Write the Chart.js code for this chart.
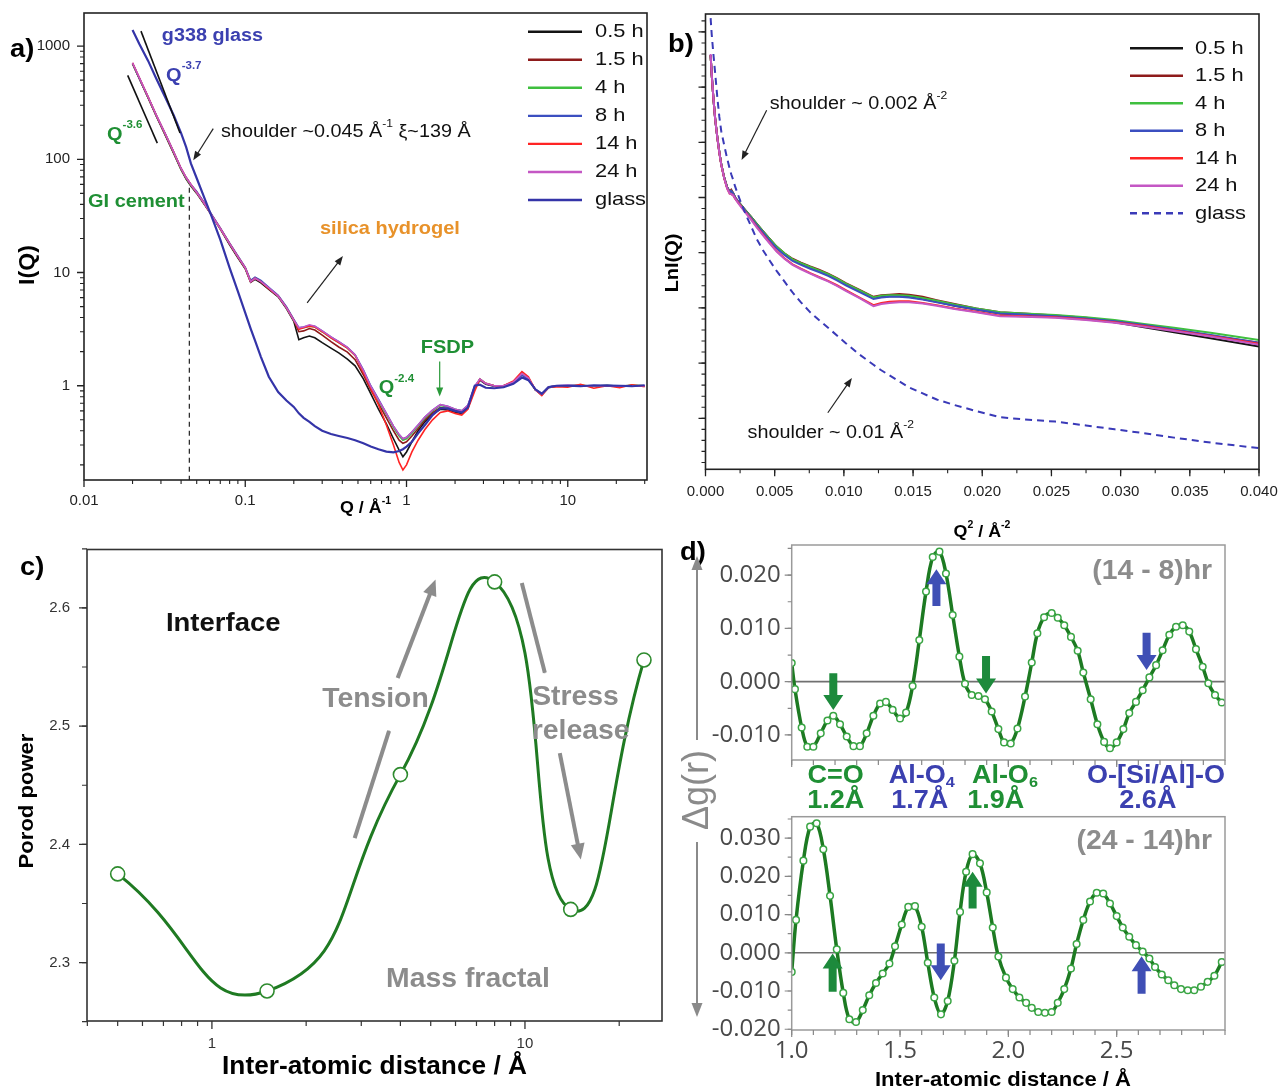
<!DOCTYPE html>
<html><head><meta charset="utf-8">
<script src="https://cdn.jsdelivr.net/npm/chart.js@4.4.1/dist/chart.umd.min.js"></script>
<style>
html,body{margin:0;padding:0;background:#fff;}
#wrap{position:relative;width:1280px;height:1088px;overflow:hidden;background:#fff;}
#wrap canvas{position:absolute;left:0;top:0;}
</style></head><body>
<div id="wrap">
<canvas id="ca" width="1280" height="1088"></canvas>
<canvas id="cb" width="1280" height="1088"></canvas>
<canvas id="cc" width="1280" height="1088"></canvas>
<canvas id="cd1" width="1280" height="1088"></canvas>
<canvas id="cd2" width="1280" height="1088"></canvas>
</div>
<script>
// ---------------- DATA ----------------
const seriesLabels = ['0.5 h','1.5 h','4 h','8 h','14 h','24 h','glass'];
const seriesColors = ['#141414','#8e1b1b','#3fbf3f','#3b4fc0','#ff2424','#c457c4','#3434a8'];

// Panel a : I(Q) vs Q
const qA = [0.020,0.022,0.025,0.028,0.032,0.036,0.040,0.043,0.046,0.050,0.055,0.062,0.070,0.080,0.090,0.100,0.108,0.115,0.125,0.140,0.160,0.180,0.200,0.215,0.230,0.250,0.270,0.300,0.340,0.380,0.430,0.480,0.540,0.600,0.670,0.750,0.830,0.900,0.950,1.000,1.080,1.180,1.300,1.450,1.620,1.800,2.000,2.200,2.400,2.650,2.850,3.100,3.500,4.000,4.600,5.200,5.700,6.300,6.900,7.600,8.500,10.0,12.0,14.5,17.5,21.0,25.0,30.0];
const a05 = [700,520,348,243,162,113,81,67,58,50,41,32,24.2,17.6,13.5,10.8,8.2,8.7,8.1,7.1,6.1,4.8,3.7,2.55,2.65,2.75,2.65,2.4,2.15,1.95,1.72,1.5,1.15,0.85,0.62,0.46,0.34,0.27,0.236,0.26,0.32,0.40,0.48,0.56,0.62,0.61,0.58,0.57,0.63,0.95,1.12,1.03,0.99,0.99,1.07,1.25,1.15,0.92,0.83,0.96,0.99,1.0,1.0,0.99,1.01,0.99,1.0,1.0];
const a15 = [700,520,350,245,164,114,82,68,59,51,42,32,24.4,17.9,13.7,10.9,8.3,8.9,8.3,7.2,6.2,4.9,3.8,3.0,3.05,3.2,3.1,2.8,2.45,2.2,1.98,1.7,1.25,0.92,0.70,0.52,0.40,0.33,0.31,0.32,0.36,0.42,0.50,0.58,0.64,0.63,0.60,0.58,0.65,0.96,1.14,1.04,1.0,1.0,1.07,1.26,1.16,0.92,0.84,0.97,1.0,1.0,1.01,0.99,1.0,0.99,1.01,1.0];
const a4 = [700,520,350,245,165,115,82,68,59,51,42,32,24.5,18,13.8,11,8.4,9.0,8.4,7.3,6.2,4.9,3.8,3.2,3.25,3.35,3.3,3.0,2.65,2.4,2.15,1.85,1.35,0.98,0.74,0.56,0.43,0.36,0.33,0.34,0.38,0.44,0.52,0.60,0.67,0.65,0.62,0.60,0.66,0.97,1.15,1.05,1.0,1.0,1.08,1.27,1.16,0.92,0.84,0.97,1.0,1.0,1.01,0.99,1.0,0.99,1.01,1.0];
const a8 = [702,522,352,246,166,116,83,69,60,52,42.5,32.5,24.8,18.2,14,11.1,8.5,9.1,8.5,7.4,6.3,5.0,3.85,3.25,3.3,3.4,3.35,3.05,2.7,2.45,2.18,1.88,1.38,1.0,0.76,0.57,0.44,0.37,0.34,0.35,0.39,0.45,0.53,0.61,0.68,0.66,0.62,0.60,0.67,0.99,1.13,1.04,0.99,1.0,1.07,1.24,1.14,0.93,0.85,0.98,1.0,1.01,1.0,1.0,1.01,1.0,0.99,1.0];
const a14 = [710,528,354,247,166,116,83,69,60,51,42,32,24.5,18,13.8,11,8.3,8.9,8.3,7.2,6.2,4.9,3.8,3.15,3.25,3.35,3.3,3.0,2.65,2.4,2.15,1.85,1.32,0.95,0.68,0.45,0.30,0.21,0.18,0.20,0.26,0.33,0.41,0.50,0.58,0.60,0.57,0.55,0.62,0.90,1.14,1.05,1.0,1.0,1.10,1.33,1.20,0.92,0.82,0.97,0.98,0.97,1.03,0.95,1.0,0.96,1.02,0.98];
const a24 = [712,530,355,248,167,116,83,69,60,51,42,32,24.5,18,13.8,11,8.3,8.9,8.3,7.3,6.2,4.9,3.8,3.25,3.3,3.45,3.35,3.05,2.7,2.45,2.18,1.87,1.37,0.99,0.75,0.57,0.44,0.37,0.34,0.35,0.39,0.45,0.53,0.61,0.68,0.66,0.62,0.60,0.67,0.99,1.15,1.05,1.0,1.0,1.08,1.28,1.17,0.92,0.84,0.97,1.0,1.01,1.0,1.0,1.0,0.99,1.0,1.0];
const aGlass = [1390,1050,740,520,350,245,170,128,92,68,48,31,19.5,11,6.8,4.4,3.2,2.5,1.8,1.2,0.88,0.74,0.65,0.57,0.52,0.48,0.44,0.40,0.375,0.36,0.345,0.33,0.31,0.29,0.275,0.262,0.258,0.265,0.275,0.29,0.32,0.38,0.45,0.55,0.63,0.63,0.60,0.58,0.64,1.0,1.02,0.96,0.95,0.97,1.04,1.18,1.12,0.93,0.85,0.97,1.0,1.0,0.99,1.01,1.0,1.0,0.99,1.01];
const aXTicks = [0.01,0.1,1,10];     const aXLabels = ['0.01','0.1','1','10'];
const aYTicks = [1,10,100,1000];     const aYLabels = ['1','10','100','1000'];

// Panel b : ln I vs Q^2
const qB = [0.00037,0.00045,0.00057,0.0007,0.00086,0.001,0.00114,0.00135,0.00157,0.00175,0.00186,0.002,0.00214,0.00235,0.00257,0.0029,0.00329,0.0037,0.00414,0.0046,0.00514,0.0057,0.00629,0.0069,0.00757,0.0082,0.00886,0.0095,0.01014,0.0111,0.01214,0.0127,0.01329,0.014,0.01471,0.0157,0.01671,0.018,0.01957,0.02129,0.023,0.02529,0.0275,0.02957,0.0317,0.03386,0.0365,0.04];
const b05 = [6.58,6.22,5.8,5.42,5.08,4.82,4.6,4.36,4.18,4.1,4.12,4.07,4.0,3.93,3.86,3.76,3.65,3.52,3.39,3.26,3.1,2.98,2.87,2.8,2.73,2.67,2.6,2.52,2.43,2.31,2.18,2.2,2.21,2.21,2.2,2.16,2.11,2.04,1.97,1.9,1.88,1.85,1.8,1.74,1.65,1.56,1.45,1.3];
const b15 = [6.58,6.22,5.8,5.42,5.08,4.82,4.6,4.36,4.18,4.11,4.14,4.08,4.0,3.93,3.86,3.76,3.65,3.52,3.39,3.26,3.11,2.99,2.89,2.82,2.75,2.69,2.62,2.54,2.45,2.33,2.2,2.23,2.24,2.25,2.24,2.2,2.14,2.07,1.99,1.92,1.9,1.86,1.82,1.76,1.68,1.6,1.5,1.37];
const b4 = [6.58,6.22,5.8,5.42,5.08,4.82,4.6,4.36,4.18,4.1,4.12,4.07,4.0,3.93,3.86,3.76,3.65,3.52,3.39,3.26,3.11,2.99,2.88,2.81,2.74,2.68,2.61,2.53,2.44,2.32,2.19,2.22,2.23,2.23,2.22,2.18,2.13,2.06,1.99,1.92,1.9,1.87,1.83,1.78,1.71,1.64,1.55,1.42];
const b8 = [6.58,6.22,5.8,5.42,5.08,4.82,4.6,4.36,4.18,4.1,4.12,4.07,4.0,3.93,3.85,3.75,3.63,3.5,3.37,3.23,3.08,2.96,2.85,2.78,2.71,2.65,2.58,2.5,2.41,2.29,2.16,2.19,2.2,2.2,2.19,2.15,2.1,2.04,1.97,1.9,1.88,1.85,1.81,1.76,1.69,1.61,1.51,1.37];
const b14 = [6.58,6.22,5.8,5.42,5.07,4.81,4.59,4.35,4.16,4.07,4.06,4.04,3.98,3.91,3.84,3.73,3.61,3.47,3.33,3.19,3.03,2.9,2.79,2.71,2.63,2.56,2.49,2.41,2.32,2.19,2.05,2.09,2.11,2.12,2.12,2.09,2.05,1.99,1.93,1.86,1.85,1.83,1.79,1.74,1.67,1.59,1.49,1.35];
const b24 = [6.6,6.24,5.81,5.42,5.07,4.81,4.59,4.35,4.16,4.07,4.06,4.04,3.98,3.9,3.83,3.72,3.6,3.46,3.32,3.18,3.02,2.89,2.78,2.7,2.62,2.55,2.48,2.4,2.31,2.18,2.03,2.07,2.09,2.1,2.1,2.08,2.04,1.98,1.92,1.85,1.84,1.82,1.78,1.73,1.66,1.58,1.48,1.33];
const bGlass = [7.25,6.95,6.6,6.25,5.8,5.46,5.2,4.95,4.7,4.52,4.42,4.32,4.2,4.05,3.9,3.7,3.48,3.25,3.05,2.87,2.67,2.48,2.28,2.1,1.92,1.78,1.64,1.5,1.36,1.16,0.97,0.87,0.78,0.67,0.56,0.45,0.34,0.24,0.13,0.02,-0.02,-0.06,-0.13,-0.2,-0.27,-0.35,-0.44,-0.54];
const bXTicks = [0,0.005,0.01,0.015,0.02,0.025,0.03,0.035,0.04];
const bXLabels = ['0.000','0.005','0.010','0.015','0.020','0.025','0.030','0.035','0.040'];

// Panel c : Porod power vs distance
const cX = [0.5,1.5,4,8,14,24];
const cY = [2.375,2.276,2.459,2.622,2.345,2.556];
const cXTicks = [1,10];  const cXLabels = ['1','10'];
const cYTicks = [2.3,2.4,2.5,2.6]; const cYLabels = ['2.3','2.4','2.5','2.6'];

// Panel d : delta g(r)
const dTopX = [1.000,1.015,1.046,1.072,1.100,1.134,1.165,1.192,1.223,1.254,1.285,1.315,1.346,1.377,1.408,1.435,1.466,1.500,1.528,1.558,1.589,1.620,1.651,1.682,1.712,1.743,1.774,1.800,1.831,1.862,1.892,1.923,1.954,1.980,2.011,2.042,2.077,2.108,2.134,2.165,2.200,2.228,2.258,2.289,2.320,2.346,2.380,2.411,2.442,2.469,2.500,2.531,2.558,2.589,2.620,2.651,2.682,2.712,2.743,2.774,2.805,2.835,2.866,2.897,2.923,2.954,2.985];
const dTopY = [0.0035,-0.0014,-0.0086,-0.0122,-0.0122,-0.0097,-0.0073,-0.0064,-0.0080,-0.0103,-0.0121,-0.0121,-0.0097,-0.0064,-0.0041,-0.0038,-0.0053,-0.0069,-0.0058,-0.0008,0.0078,0.0169,0.0234,0.0244,0.0203,0.0125,0.0047,-0.0004,-0.0025,-0.0027,-0.0033,-0.0056,-0.0089,-0.0114,-0.0116,-0.0088,-0.0028,0.0036,0.0091,0.0121,0.0129,0.0120,0.0106,0.0084,0.0058,0.0017,-0.0033,-0.0080,-0.0113,-0.0125,-0.0114,-0.0089,-0.0059,-0.0038,-0.0016,0.0008,0.0031,0.0059,0.0088,0.0103,0.0106,0.0094,0.0061,0.0028,-0.0003,-0.0025,-0.0039];
const dBotX = [1.000,1.020,1.054,1.085,1.115,1.146,1.177,1.208,1.238,1.266,1.297,1.328,1.358,1.389,1.420,1.451,1.477,1.508,1.538,1.569,1.600,1.628,1.658,1.689,1.720,1.751,1.777,1.805,1.835,1.869,1.900,1.928,1.954,1.989,2.020,2.051,2.082,2.108,2.138,2.169,2.200,2.228,2.258,2.289,2.315,2.346,2.377,2.408,2.438,2.469,2.500,2.528,2.558,2.589,2.620,2.651,2.677,2.708,2.738,2.766,2.797,2.828,2.858,2.889,2.920,2.951,2.985];
const dBotY = [-0.0050,0.0086,0.0241,0.0330,0.0339,0.0271,0.0149,0.0009,-0.0105,-0.0174,-0.0181,-0.0150,-0.0111,-0.0079,-0.0054,-0.0028,0.0017,0.0074,0.0120,0.0122,0.0068,-0.0026,-0.0117,-0.0161,-0.0126,-0.0021,0.0107,0.0212,0.0258,0.0234,0.0158,0.0066,-0.0010,-0.0065,-0.0095,-0.0117,-0.0131,-0.0144,-0.0155,-0.0157,-0.0155,-0.0131,-0.0095,-0.0041,0.0023,0.0086,0.0134,0.0157,0.0155,0.0129,0.0096,0.0066,0.0042,0.0020,0.0003,-0.0015,-0.0037,-0.0057,-0.0072,-0.0085,-0.0095,-0.0098,-0.0098,-0.0089,-0.0076,-0.0060,-0.0024];
const dTopYTicks = [0.02,0.01,0,-0.01]; const dTopYLabels = ['0.020','0.010','0.000','-0.010'];
const dBotYTicks = [0.03,0.02,0.01,0,-0.01,-0.02]; const dBotYLabels = ['0.030','0.020','0.010','0.000','-0.010','-0.020'];
const dXTicks = [1.0,1.5,2.0,2.5]; const dXLabels = ['1.0','1.5','2.0','2.5'];

// ---------------- HELPERS ----------------
const FF = '"Liberation Sans", Arial, sans-serif';
const GREEN_T = '#1f8f34', BLUE_T = '#3b40b0';
function txt(ctx,s,x,y,font,color,align,sx,rot){
  ctx.save(); ctx.font=font; ctx.fillStyle=color||'#000'; ctx.textBaseline='middle'; ctx.textAlign=align||'left';
  ctx.translate(x,y); if(rot) ctx.rotate(rot); ctx.scale(sx||1,1); ctx.fillText(s,0,0);
  const w=ctx.measureText(s).width*(sx||1); ctx.restore(); return w;
}
function rich(ctx,parts,x,y,align,sx){
  sx=sx||1; ctx.save(); let tot=0;
  const ws=parts.map(p=>{ctx.font=p[1]; const w=ctx.measureText(p[0]).width*sx; tot+=w; return w;}); ctx.restore();
  let cx = align==='center'? x-tot/2 : (align==='right'? x-tot : x);
  parts.forEach((p,i)=>{ txt(ctx,p[0],cx,y+(p[3]||0),p[1],p[2],'left',sx); cx+=ws[i]; });
}
function seg(ctx,x1,y1,x2,y2,color,w,dash){
  ctx.save(); ctx.strokeStyle=color; ctx.lineWidth=w; if(dash) ctx.setLineDash(dash);
  ctx.beginPath(); ctx.moveTo(x1,y1); ctx.lineTo(x2,y2); ctx.stroke(); ctx.restore();
}
function arrow(ctx,x1,y1,x2,y2,color,w,hl,hw){
  const a=Math.atan2(y2-y1,x2-x1), c=Math.cos(a), s=Math.sin(a);
  ctx.save(); ctx.strokeStyle=color; ctx.fillStyle=color; ctx.lineWidth=w;
  ctx.beginPath(); ctx.moveTo(x1,y1); ctx.lineTo(x2-c*hl*0.7,y2-s*hl*0.7); ctx.stroke();
  ctx.beginPath(); ctx.moveTo(x2,y2); ctx.lineTo(x2-c*hl+s*hw,y2-s*hl-c*hw); ctx.lineTo(x2-c*hl-s*hw,y2-s*hl+c*hw); ctx.closePath(); ctx.fill();
  ctx.restore();
}
function blockArrow(ctx,x,yT,yH,color){
  const d = yH>yT?1:-1, sw=4, hw=10, hl=15;
  ctx.save(); ctx.fillStyle=color; ctx.beginPath();
  ctx.moveTo(x-sw,yT); ctx.lineTo(x+sw,yT); ctx.lineTo(x+sw,yH-d*hl); ctx.lineTo(x+hw,yH-d*hl);
  ctx.lineTo(x,yH); ctx.lineTo(x-hw,yH-d*hl); ctx.lineTo(x-sw,yH-d*hl); ctx.closePath(); ctx.fill(); ctx.restore();
}
function frame(ctx,ca,color,w){ ctx.save(); ctx.strokeStyle=color; ctx.lineWidth=w; ctx.strokeRect(ca.left,ca.top,ca.right-ca.left,ca.bottom-ca.top); ctx.restore(); }
function ticksX(ctx,sc,ca,vals,len,color,w){
  ctx.save(); ctx.strokeStyle=color; ctx.lineWidth=w; ctx.beginPath();
  vals.forEach(v=>{const p=sc.getPixelForValue(v); if(p<ca.left-1||p>ca.right+1) return; ctx.moveTo(p,ca.bottom); ctx.lineTo(p,ca.bottom+len);});
  ctx.stroke(); ctx.restore();
}
function ticksY(ctx,sc,ca,vals,len,color,w){
  ctx.save(); ctx.strokeStyle=color; ctx.lineWidth=w; ctx.beginPath();
  vals.forEach(v=>{const p=sc.getPixelForValue(v); if(p<ca.top-1||p>ca.bottom+1) return; ctx.moveTo(ca.left,p); ctx.lineTo(ca.left-len,p);});
  ctx.stroke(); ctx.restore();
}
function logVals(min,max,mults){ const out=[]; for(let e=Math.floor(Math.log10(min))-1;e<=Math.ceil(Math.log10(max));e++){ mults.forEach(m=>{const v=m*Math.pow(10,e); if(v>=min*0.999&&v<=max*1.001) out.push(v);}); } return out; }
function linVals(min,max,step){ const out=[]; const n0=Math.ceil(min/step-1e-9), n1=Math.floor(max/step+1e-9); for(let n=n0;n<=n1;n++) out.push(n*step); return out; }
const MINOR=[2,3,4,5,6,7,8,9];

function commonOpts(pad, scales){
  return { responsive:false, animation:false, events:[], layout:{padding:pad},
    plugins:{legend:{display:false}, tooltip:{enabled:false}, title:{display:false}}, scales };
}
function axisBase(extra, w, h){
  return Object.assign({ bounds:'data', grid:{display:false, drawTicks:false, tickLength:0}, border:{display:false},
    afterFit:s=>{ if(w!=null) s.width=w; if(h!=null) s.height=h; s.paddingLeft=0; s.paddingRight=0; s.paddingTop=0; s.paddingBottom=0; } }, extra);
}
function legendDraw(ctx, chart, x1, x2, xt, y0, dy, font, sx){
  chart.data.datasets.forEach((ds,i)=>{
    const y=y0+dy*i;
    seg(ctx,x1,y,x2,y,ds.borderColor,2.4,ds.borderDash);
    txt(ctx,ds.label,xt,y,font,'#111','left',sx);
  });
}

// ---------------- PANEL A ----------------
const aSeries=[a05,a15,a4,a8,a14,a24,aGlass];
const drawOrder=[6,5,4,3,2,1,0];
const plugA = { id:'plugA', afterDraw(chart){
  const ctx=chart.ctx, ca=chart.chartArea, X=chart.scales.x, Y=chart.scales.y;
  const px=v=>X.getPixelForValue(v), py=v=>Y.getPixelForValue(v);
  frame(ctx,ca,'#222',1.6);
  ticksX(ctx,X,ca,aXTicks,7,'#222',1.3); ticksX(ctx,X,ca,logVals(0.01,31,MINOR),4,'#222',1.1);
  ticksY(ctx,Y,ca,aYTicks,7,'#222',1.3); ticksY(ctx,Y,ca,logVals(0.147,1960,MINOR),4,'#222',1.1);
  seg(ctx,px(0.02256),py(1356),px(0.0394),py(170.6),'#111',1.6);
  seg(ctx,px(0.01866),py(551),px(0.02848),py(139),'#111',1.6);
  seg(ctx,px(0.045),py(56),px(0.045),ca.bottom,'#222',1.2,[5,4]);
  arrow(ctx,px(0.0633),py(186.6),px(0.0476),py(98),'#222',1.2,9,3.5);
  arrow(ctx,px(0.242),py(5.39),px(0.4034),py(13.96),'#222',1.2,9,3.5);
  arrow(ctx,px(1.606),py(1.64),px(1.606),py(0.804),'#2a9a3a',1.2,9,3.5);
  const B='bold 18.5px '+FF, Bs='bold 11px '+FF, R='18px '+FF, Rs='11px '+FF;
  txt(ctx,'g338 glass',px(0.0304),py(1218),'bold 18px '+FF,BLUE_T,'left',1.1);
  rich(ctx,[['Q','bold 19px '+FF,BLUE_T,0],['-3.7',Bs,BLUE_T,-9]],px(0.0323),py(551),'left',1.05);
  rich(ctx,[['Q','bold 19px '+FF,GREEN_T,0],['-3.6',Bs,GREEN_T,-9]],px(0.0139),py(166),'left',1.05);
  rich(ctx,[['shoulder ~0.045 Å',R,'#111',0],['-1',Rs,'#111',-8],[' ξ~139 Å',R,'#111',0]],px(0.0707),py(173),'left',1.1);
  txt(ctx,'GI cement',px(0.0106),py(42),B,GREEN_T,'left',1.08);
  txt(ctx,'silica hydrogel',px(0.2905),py(24.1),B,'#e8922a','left',1.08);
  txt(ctx,'FSDP',px(1.227),py(2.157),B,GREEN_T,'left',1.08);
  rich(ctx,[['Q','bold 19px '+FF,GREEN_T,0],['-2.4',Bs,GREEN_T,-9]],px(0.6725),py(0.952),'left',1.05);
  txt(ctx,'a)',10,50,'bold 26px '+FF,'#000','left',1.05);
  txt(ctx,'I(Q)',28,265,'bold 22px '+FF,'#000','center',1.05,-Math.PI/2);
  rich(ctx,[['Q / Å','bold 17px '+FF,'#000',0],['-1','bold 10px '+FF,'#000',-7]],(ca.left+ca.right)/2,508,'center',1.05);
  legendDraw(ctx,chart,528,582,595,31.7,28.05,'19px '+FF,1.15);
}};
new Chart(document.getElementById('ca'),{
  type:'line',
  data:{datasets:aSeries.map((s,i)=>({label:seriesLabels[i],data:qA.map((q,j)=>({x:q,y:s[j]})),borderColor:seriesColors[i],borderWidth:i===6?2.2:1.6,pointRadius:0,tension:0,order:drawOrder[i]}))},
  options:commonOpts({left:0,top:13,right:1280-647,bottom:1088-480-40},{
    x:axisBase({type:'logarithmic',min:0.01,max:31,afterBuildTicks:s=>{s.ticks=aXTicks.map(v=>({value:v}));},
      ticks:{autoSkip:false,maxRotation:0,minRotation:0,padding:12,color:'#222',font:{family:FF,size:15},callback:(v,i)=>aXLabels[i]}},null,40),
    y:axisBase({type:'logarithmic',min:0.147,max:1960,afterBuildTicks:s=>{s.ticks=aYTicks.map(v=>({value:v}));},
      ticks:{autoSkip:false,padding:14,color:'#222',font:{family:FF,size:15},callback:(v,i)=>aYLabels[i]}},84,null)
  }),
  plugins:[plugA]
});

// ---------------- PANEL B ----------------
const bSeries=[b05,b15,b4,b8,b14,b24,bGlass];
const plugB = { id:'plugB', afterDraw(chart){
  const ctx=chart.ctx, ca=chart.chartArea, X=chart.scales.x, Y=chart.scales.y;
  const px=v=>X.getPixelForValue(v), py=v=>Y.getPixelForValue(v);
  frame(ctx,ca,'#222',1.6);
  ticksX(ctx,X,ca,bXTicks,7,'#222',1.3); ticksX(ctx,X,ca,linVals(0,0.04,0.0025),4,'#222',1.1);
  ticksY(ctx,Y,ca,linVals(-0.9,7.3,1),7,'#222',1.3); ticksY(ctx,Y,ca,linVals(-0.9,7.3,0.2),4,'#222',1.1);
  const R='18px '+FF, Rs='11px '+FF;
  rich(ctx,[['shoulder ~ 0.002 Å',R,'#111',0],['-2',Rs,'#111',-8]],px(0.00464),py(5.69),'left',1.1);
  arrow(ctx,px(0.00442),py(5.58),px(0.00261),py(4.68),'#222',1.2,9,3.5);
  rich(ctx,[['shoulder ~ 0.01 Å',R,'#111',0],['-2',Rs,'#111',-8]],px(0.00304),py(-0.27),'left',1.1);
  arrow(ctx,px(0.00884),py(0.1),px(0.01058),py(0.73),'#222',1.2,9,3.5);
  txt(ctx,'b)',668,45,'bold 26px '+FF,'#000','left',1.05);
  txt(ctx,'LnI(Q)',673,263,'bold 19px '+FF,'#000','center',1.05,-Math.PI/2);
  rich(ctx,[['Q','bold 17px '+FF,'#000',0],['2','bold 10px '+FF,'#000',-7],[' / Å','bold 17px '+FF,'#000',0],['-2','bold 10px '+FF,'#000',-7]],982,532,'center',1.05);
  legendDraw(ctx,chart,1130,1183,1195,48.3,27.5,'19px '+FF,1.15);
}};
new Chart(document.getElementById('cb'),{
  type:'line',
  data:{datasets:bSeries.map((s,i)=>({label:seriesLabels[i],data:qB.map((q,j)=>({x:q,y:s[j]})),borderColor:i===6?'#3a3ab8':seriesColors[i],borderWidth:2,borderDash:i===6?[7,5]:undefined,pointRadius:0,tension:0,order:drawOrder[i]}))},
  options:commonOpts({left:640,top:14,right:1280-1259,bottom:1088-469.3-40},{
    x:axisBase({type:'linear',min:0,max:0.04,afterBuildTicks:s=>{s.ticks=bXTicks.map(v=>({value:v}));},
      ticks:{autoSkip:false,maxRotation:0,minRotation:0,padding:14,color:'#222',font:{family:FF,size:15},callback:(v,i)=>bXLabels[i]}},null,40),
    y:axisBase({type:'linear',min:-0.924,max:7.324,ticks:{display:false}},65.5,null)
  }),
  plugins:[plugB]
});

// ---------------- PANEL C ----------------
const plugC = { id:'plugC', afterDraw(chart){
  const ctx=chart.ctx, ca=chart.chartArea, X=chart.scales.x, Y=chart.scales.y;
  const px=v=>X.getPixelForValue(v), py=v=>Y.getPixelForValue(v);
  frame(ctx,ca,'#333',1.6);
  ticksX(ctx,X,ca,cXTicks,8,'#333',1.3); ticksX(ctx,X,ca,logVals(0.4,27.4,MINOR),5,'#333',1.2);
  ticksY(ctx,Y,ca,cYTicks,8,'#333',1.3); ticksY(ctx,Y,ca,linVals(2.25,2.65,0.05),5,'#333',1.2);
  const G='#8c8c8c';
  arrow(ctx,px(2.858),py(2.4052),px(3.686),py(2.4965),G,4,1,1);
  arrow(ctx,px(3.92),py(2.5407),px(5.18),py(2.624),G,4,16,7);
  arrow(ctx,px(9.77),py(2.621),px(11.59),py(2.5445),G,4,1,1);
  arrow(ctx,px(12.92),py(2.4771),px(15.08),py(2.3871),G,4,16,7);
  txt(ctx,'Interface',px(0.713),py(2.5865),'bold 25px '+FF,'#111','left',1.1);
  txt(ctx,'Tension',px(3.33),py(2.5222),'bold 27px '+FF,G,'center',1.05);
  txt(ctx,'Stress',px(14.5),py(2.5239),'bold 27px '+FF,G,'center',1.05);
  txt(ctx,'release',px(15.06),py(2.4952),'bold 27px '+FF,G,'center',1.05);
  txt(ctx,'Mass fractal',px(6.58),py(2.2855),'bold 27px '+FF,G,'center',1.05);
  txt(ctx,'c)',20,568,'bold 26px '+FF,'#000','left',1.05);
  txt(ctx,'Porod power',27,801,'bold 21px '+FF,'#000','center',1.05,-Math.PI/2);
  txt(ctx,'Inter-atomic distance / Å',(ca.left+ca.right)/2,1067,'bold 25px '+FF,'#000','center',1.05);
}};
new Chart(document.getElementById('cc'),{
  type:'line',
  data:{datasets:[{label:'Porod power',data:cX.map((x,i)=>({x,y:cY[i]})),borderColor:'#1f7a22',borderWidth:3,tension:0.55,
    pointRadius:7,pointBackgroundColor:'#fff',pointBorderColor:'#2e8b2e',pointBorderWidth:1.6}]},
  options:commonOpts({left:0,top:549.5,right:1280-662,bottom:1088-1021-40},{
    x:axisBase({type:'logarithmic',min:0.399,max:27.4,afterBuildTicks:s=>{s.ticks=cXTicks.map(v=>({value:v}));},
      ticks:{autoSkip:false,maxRotation:0,minRotation:0,padding:14,color:'#333',font:{family:FF,size:15},callback:(v,i)=>cXLabels[i]}},null,40),
    y:axisBase({type:'linear',min:2.2506,max:2.6494,afterBuildTicks:s=>{s.ticks=cYTicks.map(v=>({value:v}));},
      ticks:{autoSkip:false,padding:17,color:'#333',font:{family:FF,size:15},callback:(v,i)=>cYLabels[i]}},87,null)
  }),
  plugins:[plugC]
});

// ---------------- PANEL D ----------------
const DG='#9a9a9a', GA='#1d8a3c', BA='#3f4fb5';
const OS='"Open Sans", "Liberation Sans", sans-serif';
function dDeco(chart, arrows){
  const ctx=chart.ctx, ca=chart.chartArea, X=chart.scales.x, Y=chart.scales.y;
  frame(ctx,ca,DG,1.5);
  ticksX(ctx,X,ca,dXTicks,7,'#888',1.2); ticksX(ctx,X,ca,linVals(1,3,0.1),5,'#888',1.2);
  ticksY(ctx,Y,ca,linVals(Y.min,Y.max,0.01),7,'#888',1.2); ticksY(ctx,Y,ca,linVals(Y.min,Y.max,0.005),4,'#888',1.2);
  arrows.forEach(a=>blockArrow(ctx,X.getPixelForValue(a[0]),Y.getPixelForValue(a[1]),Y.getPixelForValue(a[2]),a[3]));
}
const zeroLine = { id:'zeroLine', beforeDatasetsDraw(chart){
  const ca=chart.chartArea, y=chart.scales.y.getPixelForValue(0);
  seg(chart.ctx,ca.left,y,ca.right,y,'#707070',1.6);
}};
const plugD1 = { id:'plugD1', afterDraw(chart){
  const ctx=chart.ctx, X=chart.scales.x;
  dDeco(chart,[[1.192,0.0016,-0.0053,GA],[1.668,0.0142,0.0211,BA],[1.897,0.0048,-0.0022,GA],[2.638,0.0092,0.0022,BA]]);
  txt(ctx,'(14 - 8)hr',1212,572,'bold 27px '+FF,'#8c8c8c','right',1.05);
  const px=v=>X.getPixelForValue(v);
  const TB='bold 25px '+FF, SB='bold 15px '+FF;
  txt(ctx,'C=O',px(1.203),776,TB,GREEN_T,'center',1.08);
  txt(ctx,'1.2Å',px(1.203),801,TB,GREEN_T,'center',1.08);
  rich(ctx,[['Al-O',TB,BLUE_T,0],['4',SB,BLUE_T,7]],px(1.600),776,'center',1.08);
  txt(ctx,'1.7Å',px(1.591),801,TB,BLUE_T,'center',1.08);
  rich(ctx,[['Al-O',TB,GREEN_T,0],['6',SB,GREEN_T,7]],px(1.984),776,'center',1.08);
  txt(ctx,'1.9Å',px(1.942),801,TB,GREEN_T,'center',1.08);
  txt(ctx,'O-[Si/Al]-O',px(2.681),776,TB,BLUE_T,'center',1.08);
  txt(ctx,'2.6Å',px(2.644),801,TB,BLUE_T,'center',1.08);
  txt(ctx,'d)',680,553,'bold 26px '+FF,'#000','left',1.05);
  txt(ctx,'Δg(r)',698,790,'36px '+FF,'#8a8a8a','center',1.0,-Math.PI/2);
  arrow(ctx,697,740,697,556,'#8a8a8a',2,14,5.5);
  arrow(ctx,697,842,697,1017,'#8a8a8a',2,14,5.5);
}};
new Chart(document.getElementById('cd1'),{
  type:'line',
  data:{datasets:[{label:'(14 - 8)hr',data:dTopX.map((x,i)=>({x,y:dTopY[i]})),borderColor:'#1d7a22',borderWidth:3.5,tension:0.35,
    pointRadius:3.3,pointBackgroundColor:'#fff',pointBorderColor:'#3aa544',pointBorderWidth:1.5}]},
  options:commonOpts({left:700,top:545,right:1280-1225,bottom:1088-760-10},{
    x:axisBase({type:'linear',min:1,max:3,ticks:{display:false}},null,10),
    y:axisBase({type:'linear',min:-0.0147,max:0.02565,afterBuildTicks:s=>{s.ticks=dTopYTicks.map(v=>({value:v}));},
      ticks:{autoSkip:false,padding:11,color:'#4a4a4a',font:{family:OS,size:24},callback:(v,i)=>dTopYLabels[i]}},91.7,null)
  }),
  plugins:[zeroLine,plugD1]
});
const plugD2 = { id:'plugD2', afterDraw(chart){
  const ctx=chart.ctx;
  dDeco(chart,[[1.189,-0.0102,-0.0002,GA],[1.688,0.0024,-0.0072,BA],[1.835,0.0116,0.0212,GA],[2.615,-0.0107,-0.0009,BA]]);
  txt(ctx,'(24 - 14)hr',1212,842,'bold 27px '+FF,'#8c8c8c','right',1.05);
  txt(ctx,'Inter-atomic distance / Å',1003,1080,'bold 21px '+FF,'#000','center',1.05);
}};
new Chart(document.getElementById('cd2'),{
  type:'line',
  data:{datasets:[{label:'(24 - 14)hr',data:dBotX.map((x,i)=>({x,y:dBotY[i]})),borderColor:'#1d7a22',borderWidth:3.5,tension:0.35,
    pointRadius:3.3,pointBackgroundColor:'#fff',pointBorderColor:'#3aa544',pointBorderWidth:1.5}]},
  options:commonOpts({left:700,top:816.7,right:1280-1225,bottom:1088-1030-40},{
    x:axisBase({type:'linear',min:1,max:3,afterBuildTicks:s=>{s.ticks=dXTicks.map(v=>({value:v}));},
      ticks:{autoSkip:false,maxRotation:0,minRotation:0,padding:7,color:'#4a4a4a',font:{family:OS,size:24},callback:(v,i)=>dXLabels[i]}},null,40),
    y:axisBase({type:'linear',min:-0.0202,max:0.0356,afterBuildTicks:s=>{s.ticks=dBotYTicks.map(v=>({value:v}));},
      ticks:{autoSkip:false,padding:11,color:'#4a4a4a',font:{family:OS,size:24},callback:(v,i)=>dBotYLabels[i]}},91.7,null)
  }),
  plugins:[zeroLine,plugD2]
});
</script>
</body></html>
